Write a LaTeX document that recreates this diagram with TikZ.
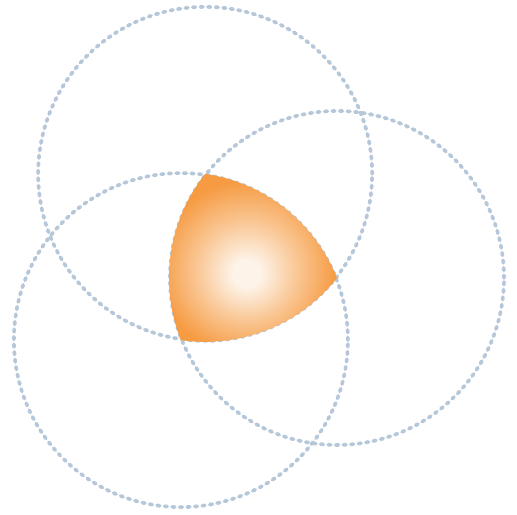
\documentclass[tikz,border=0pt]{standalone}
\usetikzlibrary{calc}
\definecolor{ringC}{RGB}{182,199,217}
\definecolor{glowIn}{RGB}{253,243,232}
\definecolor{glowOut}{RGB}{246,155,66}
\pgfdeclareradialshading{glow}{\pgfpoint{-0.4bp}{-3.8bp}}{%
  color(0bp)=(glowIn); color(4bp)=(glowIn); color(14bp)=(glowOut!50!glowIn);
  color(25bp)=(glowOut); color(50bp)=(glowOut)}

\begin{document}
\begin{tikzpicture}[ring/.style={draw=ringC, line width=1.05pt, line cap=round,
    dash pattern=on 0.75pt off 1.4pt}]
  \useasboundingbox (0,0) rectangle (5.17,5.15);
  \coordinate (ctr) at (2.41,2.51);
  \foreach \n/\a in {top/111.7, right/-8.3, left/231.7}
    \coordinate (\n) at ($(ctr)+(\a:0.97)$);
  % dotted rings
  \foreach \n in {top,right,left}
    \draw[ring] (\n) circle[radius=1.67];
  % common part of the three
  \shade[shading=glow] (top) arc[start angle=81.7, end angle=21.7, radius=1.68]
    arc[start angle=-38.3, end angle=-98.3, radius=1.68]
    arc[start angle=201.7, end angle=141.7, radius=1.68] -- cycle;
\end{tikzpicture}
\end{document}
